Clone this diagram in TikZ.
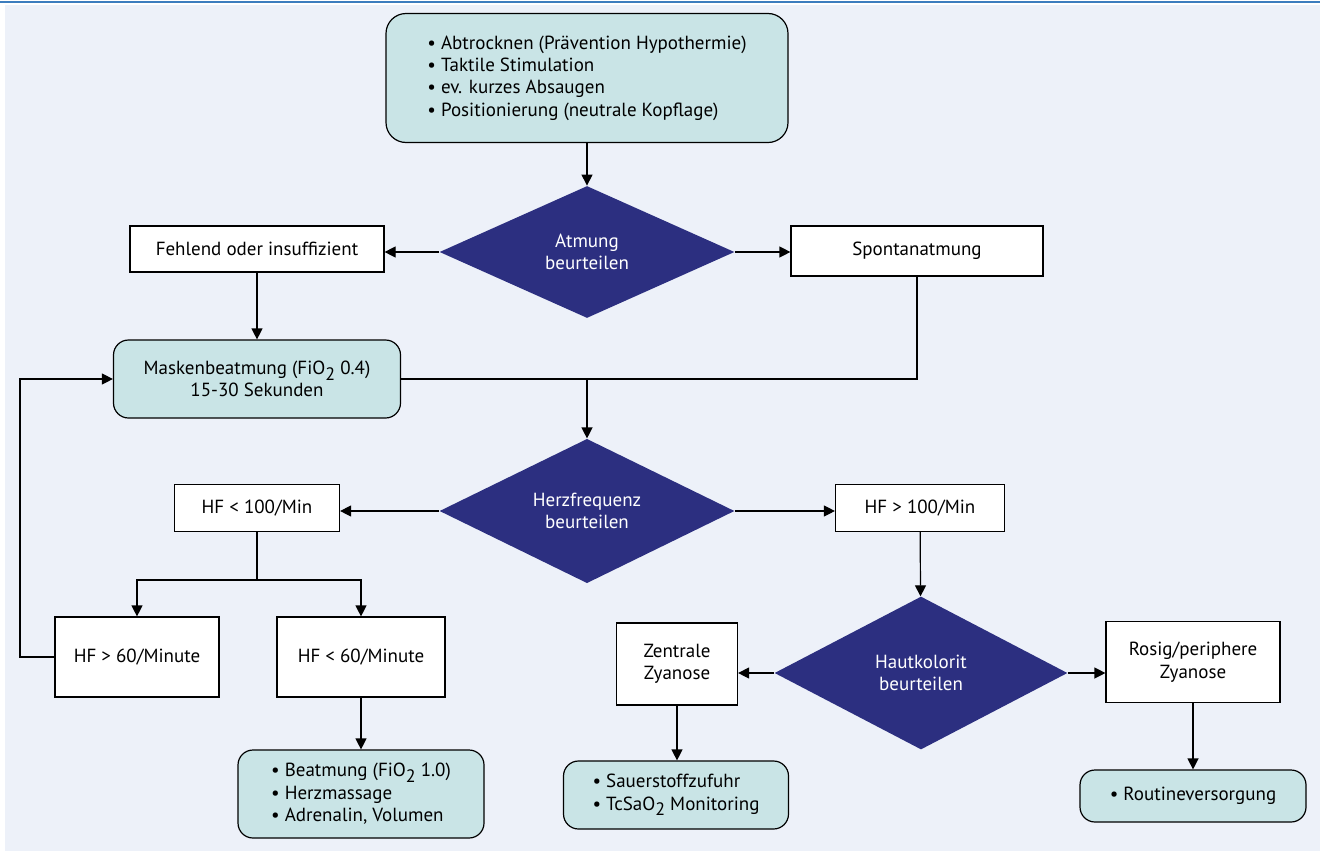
\documentclass[tikz,border=0pt]{standalone}
\usepackage{fontspec}
\setmainfont{PT Sans}
\usetikzlibrary{shapes.geometric, arrows.meta, positioning}
\definecolor{bgblue}{HTML}{EDF1F9}
\definecolor{topblue}{HTML}{3C7DBE}
\definecolor{boxteal}{HTML}{C9E4E6}
\definecolor{navy}{HTML}{2C2F80}
\newcommand{\tief}[1]{\raisebox{-0.6ex}{\fontsize{9}{9}\selectfont #1}}

\tikzset{
	plain/.style={draw=black, fill=white, line width=0.6pt, inner sep=2pt, align=center, font=\fontsize{9.5}{11.2}\selectfont},
	teal/.style={draw=black, fill=boxteal, line width=0.6pt, rounded corners=7.5pt, inner sep=2pt, font=\fontsize{9.5}{11.2}\selectfont},
	decide/.style={diamond, fill=navy, text=white, inner sep=0pt, align=center, font=\fontsize{9.5}{11.2}\selectfont},
	arr/.style={line width=0.6pt, -{Triangle[length=5.5pt, width=5.5pt]}},
	line/.style={line width=0.6pt}
}

\begin{document}
\begin{tikzpicture}[x=0.5pt, y=-0.5pt]
	\useasboundingbox (0,0) rectangle (1320,851);
	% background
	\fill[bgblue] (5,5) rectangle (1320,851);
	\draw[topblue, line width=1.2pt] (0,2) -- (1320,2);
	%first care
	\node[teal, rounded corners=10pt, minimum width=201pt, minimum height=64.5pt, align=left] (care) at (587,78)
		{• Abtrocknen (Prävention Hypothermie)\\• Taktile Stimulation\\• ev. kurzes Absaugen\\• Positionierung (neutrale Kopflage)};
	%decisions
	\node[decide, minimum width=147.5pt, minimum height=66pt] (atmung) at (587,252) {Atmung\\beurteilen};
	\node[decide, minimum width=147.5pt, minimum height=71.5pt] (herz) at (587,511) {Herzfrequenz\\beurteilen};
	\node[decide, minimum width=146.5pt, minimum height=76.5pt] (haut) at (921,673) {Hautkolorit\\beurteilen};
	%breathing
	\node[plain, minimum width=127pt, minimum height=23pt] (fehlend) at (257,249) {Fehlend oder insuffizient};
	\node[plain, minimum width=126pt, minimum height=25pt] (spontan) at (917,251) {Spontanatmung};
	\node[teal, minimum width=143.5pt, minimum height=39pt, align=center] (maske) at (257,379)
		{Maskenbeatmung (FiO\tief{2} 0.4)\\15-30 Sekunden};
	%heart rate
	\node[plain, minimum width=82.5pt, minimum height=23.5pt] (hfunter) at (257,508) {HF < 100/Min};
	\node[plain, minimum width=84.5pt, minimum height=23.5pt] (hfueber) at (920,508) {HF > 100/Min};
	\node[plain, minimum width=82pt, minimum height=40pt] (hfsechzig) at (137,657) {HF > 60/Minute};
	\node[plain, minimum width=84pt, minimum height=40pt] (hfkrit) at (361,657) {HF < 60/Minute};
	\node[teal, minimum width=123pt, minimum height=44pt, align=left] (reani) at (361,794)
		{• Beatmung (FiO\tief{2} 1.0)\\• Herzmassage\\• Adrenalin, Volumen};
	%skin colour
	\node[plain, minimum width=60.5pt, minimum height=41pt] (zentral) at (677,664) {Zentrale\\Zyanose};
	\node[plain, minimum width=87pt, minimum height=40.5pt] (rosig) at (1193,662) {Rosig/periphere\\Zyanose};
	\node[teal, minimum width=112.5pt, minimum height=34pt, align=left] (sauer) at (676,795)
		{• Sauerstoffzufuhr\\• TcSaO\tief{2} Monitoring};
	\node[teal, minimum width=113pt, minimum height=26pt] (routine) at (1193,796) {• Routineversorgung};
	%helper points
	\coordinate (join) at (maske.east -| herz.north);
	\coordinate (split) at (257,580);
	\coordinate (back) at (20,657);
	%making lines
	\draw[arr] (care) -- (atmung);
	\draw[arr] (atmung.west) -- (atmung.west -| fehlend.east);
	\draw[arr] (atmung.east) -- (atmung.east -| spontan.west);
	\draw[arr] (fehlend) -- (maske);
	\draw[line] (spontan.south) |- (maske.east);
	\draw[arr] (join) -- (herz.north);
	\draw[arr] (herz.west) -- (herz.west -| hfunter.east);
	\draw[arr] (herz.east) -- (herz.east -| hfueber.west);
	\draw[line] (hfunter) -- (split);
	\draw[arr] (split) -| (hfsechzig.north);
	\draw[arr] (split) -| (hfkrit.north);
	\draw[arr] (hfsechzig.west) -- (back) |- (maske.west);
	\draw[arr] (hfkrit) -- (reani);
	\draw[arr] (hfueber) -- (haut);
	\draw[arr] (haut.west) -- (haut.west -| zentral.east);
	\draw[arr] (haut.east) -- (haut.east -| rosig.west);
	\draw[arr] (zentral.south) -- (zentral.south |- sauer.north);
	\draw[arr] (rosig) -- (routine);
\end{tikzpicture}
\end{document}
